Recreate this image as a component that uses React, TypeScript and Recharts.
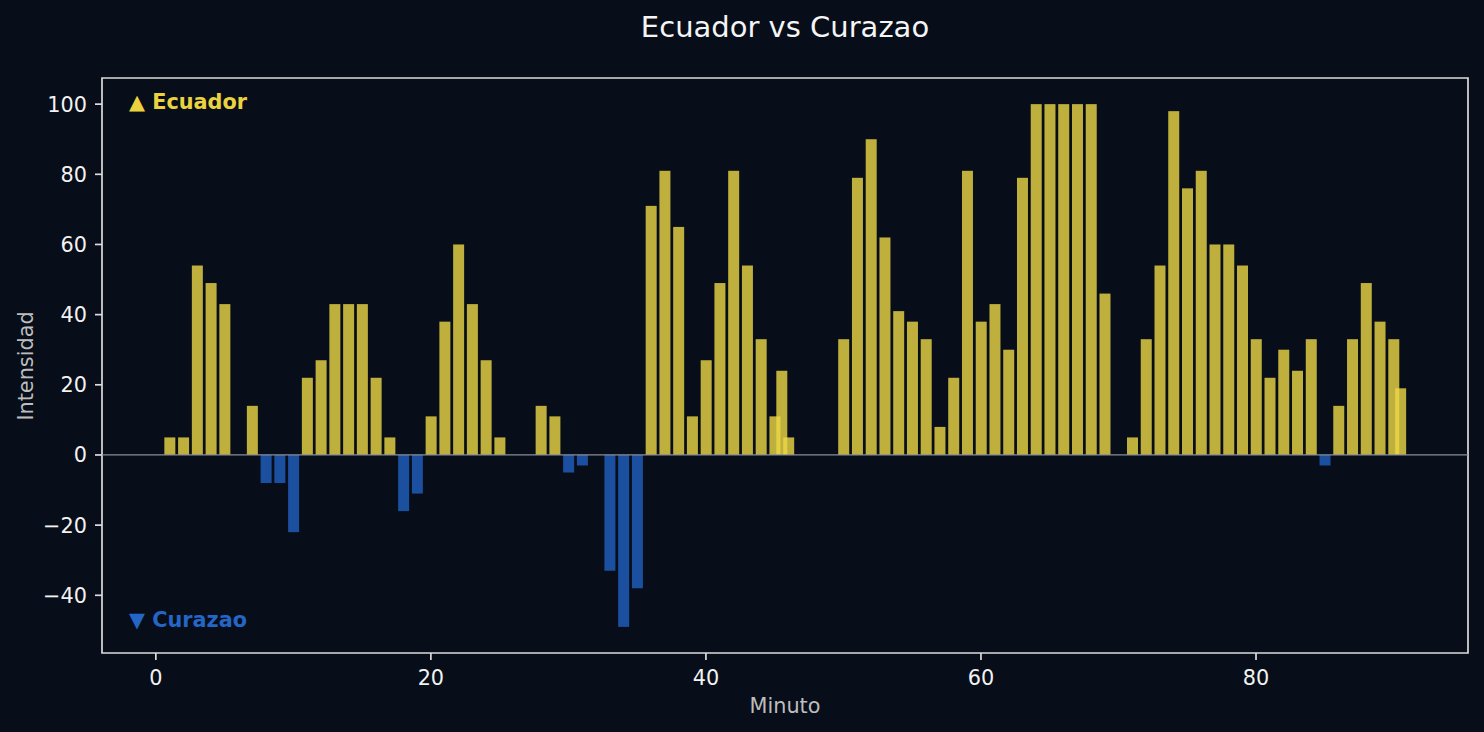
import { Bar, BarChart, Cell, ReferenceArea, ReferenceLine, XAxis, YAxis } from "recharts";

// Minutes (45.5 and 90.5 are stoppage time) and signed intensity: + Ecuador, − Curazao.
const minutos = [
  1, 2, 3, 4, 5, 7, 8, 9, 10, 11, 12, 13, 14, 15, 16, 17, 18, 19, 20, 21, 22, 23, 24, 25,
  28, 29, 30, 31, 33, 34, 35, 36, 37, 38, 39, 40, 41, 42, 43, 44, 45, 45.5, 46,
  50, 51, 52, 53, 54, 55, 56, 57, 58, 59, 60, 61, 62, 63, 64, 65, 66, 67, 68, 69,
  71, 72, 73, 74, 75, 76, 77, 78, 79, 80, 81, 82, 83, 84, 85, 86, 87, 88, 89, 90, 90.5,
];
const intensidad = [
  5, 5, 54, 49, 43, 14, -8, -8, -22, 22, 27, 43, 43, 43, 22, 5, -16, -11, 11, 38, 60, 43, 27, 5,
  14, 11, -5, -3, -33, -49, -38, 71, 81, 65, 11, 27, 49, 81, 54, 33, 11, 24, 5,
  33, 79, 90, 62, 41, 38, 33, 8, 22, 81, 38, 43, 30, 79, 100, 100, 100, 100, 100, 46,
  5, 33, 54, 98, 76, 81, 60, 60, 54, 33, 22, 30, 24, 33, -3, 14, 33, 49, 38, 33, 19,
];
const xTicks = [0, 20, 40, 60, 80];
const yTicks = [-40, -20, 0, 20, 40, 60, 80, 100];

const data = minutos.map((m, i) => ({ minuto: m, valor: intensidad[i] }));

const BG = "#070d19";
const YELLOW = "#edd845";
const BLUE = "#2161c2";
const SPINE = "#dcdcdc";
const FONT = "'DejaVu Sans', sans-serif";
const BAR_W = 11; // 0.8 minute at this plot width

const tickStyle = { fill: "#f2f2f2", fontSize: 20.8, fontFamily: FONT };
const minus = (v: number) => String(v).replace("-", "\u2212");

// Recharts narrows bars because of the half-minute gaps; keep its centre, widen to 0.8 min.
function WideBar(props: any) {
  const { x, y, width, height, fill, fillOpacity } = props;
  const cx = x + width / 2;
  const top = Math.min(y, y + height);
  return (
    <rect
      x={cx - BAR_W / 2}
      y={top}
      width={BAR_W}
      height={Math.abs(height)}
      fill={fill}
      fillOpacity={fillOpacity}
    />
  );
}

export default function App() {
  return (
    <div style={{ position: "absolute", left: 0, top: 0, width: 1484, height: 732, background: BG }}>
      <BarChart
        width={1484}
        height={732}
        data={data}
        margin={{ top: 78, right: 16, bottom: 0, left: 0 }}
      >
        <XAxis
          dataKey="minuto"
          type="number"
          domain={[-3.915, 95.415]}
          allowDataOverflow
          ticks={xTicks}
          height={79}
          axisLine={false}
          tickLine={{ stroke: SPINE, strokeWidth: 1.7 }}
          tickSize={7}
          tickMargin={10}
          tick={tickStyle}
        />
        <YAxis
          type="number"
          domain={[-56.45, 107.45]}
          allowDataOverflow
          ticks={yTicks}
          width={102}
          axisLine={false}
          tickLine={{ stroke: SPINE, strokeWidth: 1.7 }}
          tickSize={7}
          tickMargin={8}
          tick={tickStyle}
          tickFormatter={minus}
        />
        <ReferenceLine y={0} stroke="#8a8f99" strokeWidth={1.2} />
        <Bar dataKey="valor" fillOpacity={0.8} shape={WideBar} isAnimationActive={false}>
          {data.map((d) => (
            <Cell key={d.minuto} fill={d.valor >= 0 ? YELLOW : BLUE} />
          ))}
        </Bar>
        <ReferenceArea
          x1={-3.915}
          x2={95.415}
          y1={-56.45}
          y2={107.45}
          fill="none"
          stroke={SPINE}
          strokeWidth={1.7}
          ifOverflow="visible"
        />
      </BarChart>
      <svg
        width={1484}
        height={732}
        style={{ position: "absolute", left: 0, top: 0, pointerEvents: "none" }}
        fontFamily={FONT}
      >
        <text x={785} y={37} textAnchor="middle" fontSize={29} fill="#f5f5f5">
          Ecuador vs Curazao
        </text>
        <text x={785} y={713} textAnchor="middle" fontSize={20.8} fill="#bdbdbd">
          Minuto
        </text>
        <text transform="translate(33,366) rotate(-90)" textAnchor="middle" fontSize={20.8} fill="#bdbdbd">
          Intensidad
        </text>
        <text x={129} y={109} fontSize={20.8} fontWeight="bold" fill="#ebd33f">
          ▲ Ecuador
        </text>
        <text x={129} y={627} fontSize={20.8} fontWeight="bold" fill="#2466c6">
          ▼ Curazao
        </text>
      </svg>
    </div>
  );
}
